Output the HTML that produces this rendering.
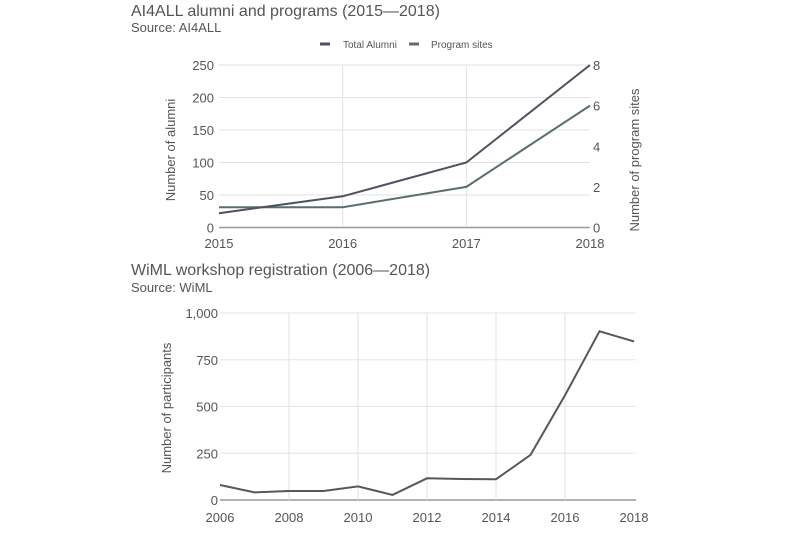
<!DOCTYPE html>
<html><head><meta charset="utf-8"><style>
body{margin:0;background:#fff;width:811px;height:539px;overflow:hidden;font-family:"Liberation Sans",sans-serif}
svg text{font-family:"Liberation Sans",sans-serif;fill:#555}
</style></head><body>
<svg width="811" height="539">
<g id="c1"></g>
<g id="c2"></g>
</svg>
<script>
const years1=[2015,2016,2017,2018];
const alumni=[22,48,100,250];
const sites=[1,1,2,6];
const leftTicks=[0,50,100,150,200,250];
const rightTicks=[0,2,4,6,8];
const years2=[2006,2007,2008,2009,2010,2011,2012,2013,2014,2015,2016,2017,2018];
const participants=[80,41,48,48,73,27,116,112,111,241,560,902,848];
const ticks2=[0,250,500,750,1000];
const xLabels2=[2006,2008,2010,2012,2014,2016,2018];

const NS="http://www.w3.org/2000/svg";
function mk(p,t,a,txt){const e=document.createElementNS(NS,t);for(const k in a)e.setAttribute(k,a[k]);if(txt!==undefined)e.textContent=txt;p.appendChild(e);return e;}
const c1=document.getElementById('c1'),c2=document.getElementById('c2');

// Chart 1
let e;
e=mk(c1,'text',{x:131,y:16,'font-size':16,fill:'#444'},'AI4ALL alumni and programs (2015\u20142018)');

e=mk(c1,'text',{x:131,y:32,'font-size':13},'Source: AI4ALL');

const x1=v=>219+(v-2015)/3*371;
const yL=v=>227.5-v/250*162.5;
const yR=v=>227.5-v/8*162.5;
leftTicks.forEach(t=>{
 e=mk(c1,'line',{x1:219,x2:590,y1:yL(t),y2:yL(t),stroke:t?'#e2e2e2':'#999','stroke-width':t?1:1.5});
 
 e=mk(c1,'text',{x:214,y:yL(t)+5,'font-size':13,'text-anchor':'end'},String(t));
 
});
rightTicks.forEach(t=>{
 e=mk(c1,'text',{x:593,y:yR(t)+5,'font-size':13},String(t));
 
});
years1.forEach(y=>{
 if(y>2015&&y<2018){e=mk(c1,'line',{x1:x1(y),x2:x1(y),y1:65,y2:227,stroke:'#e2e2e2'});
 }
 e=mk(c1,'text',{x:x1(y),y:248,'font-size':13,'text-anchor':'middle'},String(y));
 
});
e=mk(c1,'text',{x:0,y:0,'font-size':13,transform:'translate(175,150) rotate(-90)','text-anchor':'middle'},'Number of alumni');

e=mk(c1,'text',{x:0,y:0,'font-size':13,transform:'translate(639,160) rotate(-90)','text-anchor':'middle'},'Number of program sites');

e=mk(c1,'polyline',{points:years1.map((y,i)=>x1(y)+','+yR(sites[i])).join(' '),fill:'none',stroke:'#5b6e6e','stroke-width':2});

e=mk(c1,'polyline',{points:years1.map((y,i)=>x1(y)+','+yL(alumni[i])).join(' '),fill:'none',stroke:'#4d5160','stroke-width':2});

e=mk(c1,'line',{x1:320,x2:330,y1:44,y2:44,stroke:'#4d5160','stroke-width':3});

e=mk(c1,'text',{x:343,y:48,'font-size':10},'Total Alumni');

e=mk(c1,'line',{x1:409,x2:419,y1:44,y2:44,stroke:'#5b6e6e','stroke-width':3});

e=mk(c1,'text',{x:431,y:48,'font-size':10},'Program sites');


// Chart 2
e=mk(c2,'text',{x:131,y:275,'font-size':16,fill:'#444'},'WiML workshop registration (2006\u20142018)');

e=mk(c2,'text',{x:131,y:292,'font-size':13},'Source: WiML');

const x2=v=>220+(v-2006)/12*414;
const y2=v=>500-v/1000*187;
ticks2.forEach(t=>{
 e=mk(c2,'line',{x1:220,x2:636,y1:y2(t),y2:y2(t),stroke:t?'#e6e6e6':'#999','stroke-width':t?1:1.5});
 
 e=mk(c2,'text',{x:218,y:y2(t)+5,'font-size':13,'text-anchor':'end'},t.toLocaleString('en-US'));
 
});
xLabels2.forEach(y=>{
 if(y>2006&&y<2018){e=mk(c2,'line',{x1:x2(y),x2:x2(y),y1:313,y2:500,stroke:'#e2e2e2'});
 }
 e=mk(c2,'text',{x:x2(y),y:522,'font-size':13,'text-anchor':'middle'},String(y));
 
});
e=mk(c2,'text',{x:0,y:0,'font-size':13,transform:'translate(171,408) rotate(-90)','text-anchor':'middle'},'Number of participants');

e=mk(c2,'polyline',{points:years2.map((y,i)=>x2(y)+','+y2(participants[i])).join(' '),fill:'none',stroke:'#55575f','stroke-width':2});

</script>
</body></html>
